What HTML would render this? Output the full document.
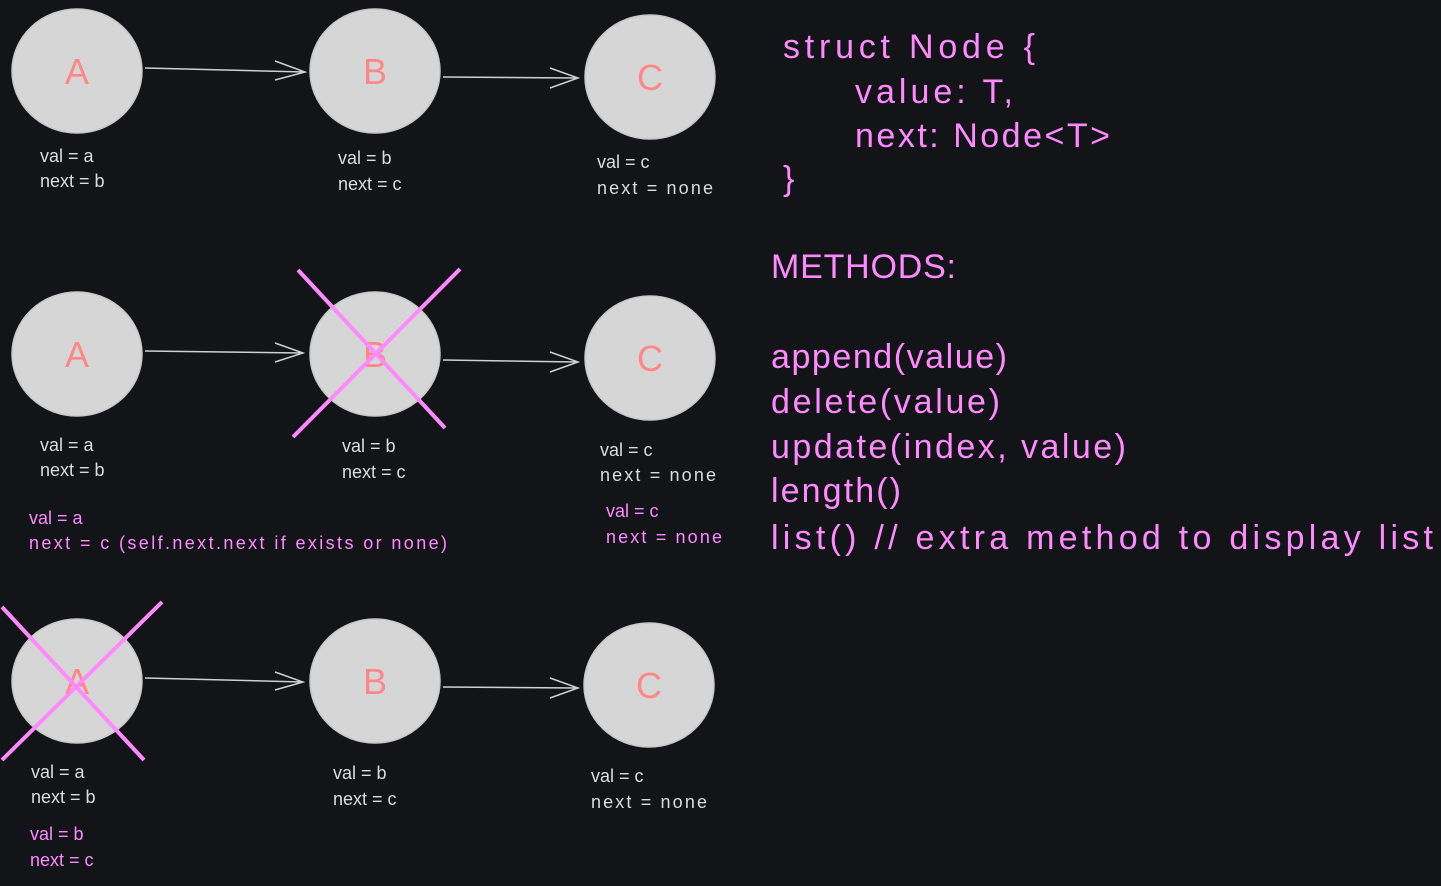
<!DOCTYPE html>
<html><head><meta charset="utf-8"><style>
body{margin:0;background:#121418;}
svg{display:block}
text{font-family:"Liberation Sans",sans-serif;}
.l{fill:#dcdcdc;font-size:18px}
.p{fill:#ff8aff}
.n{fill:#ff8787;font-size:36px;text-anchor:middle}
</style></head><body>
<svg width="1441" height="886" viewBox="0 0 1441 886">
<rect width="1441" height="886" fill="#121418"/>
<g fill="#d6d6d6" stroke="#c8c8c8" stroke-width="1.5">
<ellipse cx="77" cy="71" rx="65" ry="62"/><ellipse cx="375" cy="71" rx="65" ry="62"/><ellipse cx="650" cy="77" rx="65" ry="62"/>
<ellipse cx="77" cy="354" rx="65" ry="62"/><ellipse cx="375" cy="354" rx="65" ry="62"/><ellipse cx="650" cy="358" rx="65" ry="62"/>
<ellipse cx="77" cy="681" rx="65" ry="62"/><ellipse cx="375" cy="681" rx="65" ry="62"/><ellipse cx="649" cy="685" rx="65" ry="62"/>
</g>
<g class="n">
<text x="77" y="84">A</text><text x="375" y="84">B</text><text x="650" y="90">C</text>
<text x="77" y="367">A</text><text x="375" y="367">B</text><text x="650" y="371">C</text>
<text x="77" y="694">A</text><text x="375" y="694">B</text><text x="649" y="698">C</text>
</g>
<g stroke="#d0d0d0" stroke-width="1.5" fill="none">
<path d="M145 68 L305 72 M275 61 L305 72 L275 80"/>
<path d="M443 77 L578 78 M550 68 L578 78 L550 88"/>
<path d="M145 351 L303 353 M275 343 L303 353 L275 362"/>
<path d="M443 360 L578 362 M550 352 L578 362 L550 372"/>
<path d="M145 678 L303 682 M275 672 L303 682 L275 690"/>
<path d="M443 687 L578 688 M550 678 L578 688 L550 698"/>
</g>
<g class="l">
<text x="40" y="162">val = a</text><text x="40" y="187">next = b</text>
<text x="338" y="164">val = b</text><text x="338" y="190">next = c</text>
<text x="597" y="168">val = c</text><text x="597" y="194" textLength="116">next = none</text>
<text x="40" y="451">val = a</text><text x="40" y="476">next = b</text>
<text x="342" y="452">val = b</text><text x="342" y="478">next = c</text>
<text x="600" y="456">val = c</text><text x="600" y="481" textLength="116">next = none</text>
<text x="31" y="778">val = a</text><text x="31" y="803">next = b</text>
<text x="333" y="779">val = b</text><text x="333" y="805">next = c</text>
<text x="591" y="782">val = c</text><text x="591" y="808" textLength="116">next = none</text>
</g>
<g class="p" style="font-size:18px">
<text x="29" y="524">val = a</text><text x="29" y="549" textLength="418">next = c (self.next.next if exists or none)</text>
<text x="606" y="517">val = c</text><text x="606" y="543" textLength="116">next = none</text>
<text x="30" y="840">val = b</text><text x="30" y="866">next = c</text>
</g>
<g stroke="#ff8aff" stroke-width="4" fill="none">
<path d="M298 270 L445 428 M460 269 L293 437"/>
<path d="M2 607 L144 760 M162 602 L2 760"/>
</g>
<g class="p" style="font-size:34px">
<text x="783" y="58" textLength="252">struct Node {</text>
<text x="855" y="103" textLength="158">value: T,</text>
<text x="855" y="147" textLength="255">next: Node&lt;T&gt;</text>
<text x="783" y="190">}</text>
<text x="771" y="278" textLength="185">METHODS:</text>
<text x="771" y="368" textLength="236">append(value)</text>
<text x="771" y="413" textLength="229">delete(value)</text>
<text x="771" y="458" textLength="355">update(index, value)</text>
<text x="771" y="502" textLength="130">length()</text>
<text x="771" y="549" textLength="662">list() // extra method to display list</text>
</g>
</svg>
</body></html>
